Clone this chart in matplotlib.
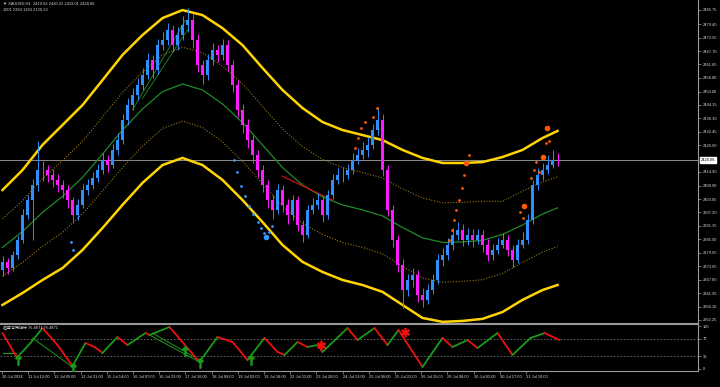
import numpy as np
import matplotlib
matplotlib.use("Agg")
import matplotlib.pyplot as plt
from matplotlib.transforms import blended_transform_factory

plt.rcParams['font.family'] = ['Liberation Sans', 'DejaVu Sans', 'Noto Sans CJK SC']

# ---------------- data ----------------
first_open = 2372.0
close = [2375.6, 2372.9, 2378.6, 2385.2, 2396.1, 2402.6, 2409.2, 2415.7, 2415.7, 2413.6,
         2411.4, 2409.2, 2407.0, 2402.6, 2396.1, 2400.5, 2407.0, 2409.2, 2412.2, 2415.7,
         2420.1, 2417.9, 2424.5, 2428.8, 2437.6, 2444.1, 2448.5, 2452.9, 2457.2, 2463.8,
         2459.4, 2470.3, 2472.5, 2476.9, 2470.3, 2474.7, 2479.0, 2481.2, 2472.5, 2461.6,
         2457.2, 2463.8, 2468.1, 2466.0, 2470.3, 2461.6, 2452.9, 2442.0, 2435.4, 2428.8,
         2422.3, 2415.7, 2409.2, 2402.6, 2398.3, 2407.0, 2400.5, 2396.1, 2402.6, 2391.7,
         2387.4, 2398.3, 2400.5, 2402.6, 2396.1, 2404.8, 2411.4, 2413.6, 2413.6, 2415.7,
         2420.1, 2422.3, 2424.5, 2426.7, 2433.2, 2437.6, 2415.7, 2398.3, 2385.2, 2374.3,
         2363.3, 2367.7, 2369.9, 2361.2, 2359.0, 2363.3, 2367.7, 2376.4, 2378.6, 2383.0,
         2387.4, 2389.5, 2385.2, 2387.4, 2385.2, 2387.4, 2383.0, 2378.6, 2380.8, 2383.0,
         2385.2, 2380.8, 2376.4, 2383.0, 2385.2, 2393.9, 2409.2, 2413.6, 2415.7, 2417.9,
         2420.1, 2420.06]
high = [2378.0, 2377.5, 2380.4, 2387.0, 2398.5, 2405.0, 2412.0, 2428.5, 2419.5, 2418.0,
        2416.0, 2414.0, 2411.5, 2409.0, 2404.0, 2403.0, 2409.5, 2412.0, 2415.0, 2418.5,
        2423.0, 2422.5, 2427.0, 2432.0, 2440.0, 2447.0, 2451.5, 2456.0, 2460.5, 2467.0,
        2466.0, 2473.0, 2476.0, 2480.0, 2479.0, 2478.0, 2483.0, 2486.5, 2484.0, 2475.0,
        2464.0, 2466.5, 2471.0, 2470.5, 2473.0, 2472.5, 2464.0, 2455.0, 2444.5, 2438.0,
        2431.0, 2424.5, 2418.0, 2411.5, 2405.0, 2409.5, 2409.0, 2403.0, 2405.0, 2404.5,
        2394.0, 2400.5, 2403.5, 2405.5, 2404.5, 2407.0, 2414.0, 2416.5, 2417.0, 2418.5,
        2423.0, 2425.5, 2428.0, 2430.0, 2436.0, 2443.0, 2440.0, 2418.0, 2400.5, 2387.5,
        2377.0, 2370.5, 2373.0, 2372.0, 2364.0, 2366.0, 2370.5, 2379.0, 2381.5, 2386.0,
        2390.5, 2393.0, 2392.0, 2390.5, 2390.0, 2390.0, 2389.5, 2385.5, 2383.5, 2386.0,
        2388.0, 2387.5, 2383.0, 2385.5, 2388.5, 2396.5, 2411.5, 2416.5, 2419.0, 2422.5,
        2424.5, 2423.0]
low = [2369.5, 2370.2, 2371.5, 2377.0, 2384.0, 2394.5, 2385.0, 2406.5, 2411.0, 2410.5,
       2408.5, 2406.0, 2403.5, 2399.0, 2392.5, 2394.0, 2399.0, 2405.0, 2407.5, 2410.5,
       2414.0, 2415.0, 2416.5, 2422.5, 2427.0, 2435.5, 2442.0, 2446.5, 2450.5, 2455.5,
       2456.0, 2457.5, 2468.0, 2470.5, 2467.5, 2468.0, 2472.5, 2476.0, 2469.0, 2458.5,
       2453.5, 2455.0, 2461.5, 2463.0, 2464.0, 2459.0, 2450.0, 2439.0, 2432.0, 2425.5,
       2419.0, 2412.5, 2406.0, 2399.0, 2394.5, 2396.5, 2397.5, 2392.0, 2394.0, 2389.0,
       2384.5, 2386.0, 2396.5, 2398.5, 2393.0, 2394.5, 2403.0, 2409.5, 2410.5, 2412.0,
       2414.0, 2418.5, 2420.5, 2421.5, 2425.0, 2431.0, 2413.0, 2395.5, 2382.0, 2371.0,
       2355.5, 2360.5, 2364.5, 2358.0, 2356.0, 2357.0, 2361.5, 2366.0, 2374.0, 2376.5,
       2381.0, 2385.0, 2382.5, 2383.0, 2382.0, 2383.5, 2380.0, 2376.0, 2376.5, 2379.0,
       2381.5, 2378.0, 2373.5, 2375.0, 2381.5, 2383.5, 2392.0, 2407.0, 2411.5, 2414.0,
       2416.5, 2417.5]

band_idx = [0, 4, 8, 12, 16, 20, 24, 28, 32, 36, 40, 44, 48, 52, 56, 60, 64, 68, 72, 76,
            80, 84, 88, 92, 96, 100, 104, 108, 111]
band_upper = [2407.0, 2415.7, 2426.7, 2435.4, 2444.1, 2455.0, 2466.0, 2474.7, 2482.1, 2485.6,
              2483.4, 2477.7, 2470.3, 2460.3, 2450.7, 2442.8, 2436.7, 2433.2, 2431.0, 2428.8,
              2424.5, 2421.0, 2418.8, 2418.8, 2419.2, 2421.4, 2424.5, 2429.7, 2432.8]
band_upper_mid = [2394.4, 2402.3, 2411.9, 2419.8, 2428.3, 2438.9, 2449.6, 2458.5, 2466.0, 2469.4,
                  2467.0, 2461.1, 2453.4, 2443.5, 2433.7, 2426.0, 2420.3, 2416.8, 2414.6, 2412.3,
                  2407.5, 2403.5, 2401.4, 2401.6, 2402.1, 2402.0, 2406.5, 2410.5, 2412.7]
band_center = [2381.9, 2388.9, 2397.2, 2404.2, 2412.5, 2422.7, 2433.2, 2442.4, 2450.0, 2453.3,
               2450.7, 2444.6, 2436.5, 2426.7, 2416.8, 2409.2, 2404.0, 2400.5, 2398.3, 2395.7,
               2390.6, 2386.1, 2384.1, 2384.3, 2385.0, 2387.6, 2391.7, 2396.5, 2399.2]
band_lower_mid = [2369.3, 2375.4, 2382.4, 2388.5, 2396.6, 2406.6, 2416.8, 2426.2, 2433.9, 2437.1,
                  2434.3, 2428.0, 2419.5, 2409.8, 2399.9, 2392.4, 2387.6, 2384.1, 2381.9, 2379.1,
                  2373.7, 2368.6, 2366.7, 2367.1, 2367.8, 2370.6, 2375.4, 2379.9, 2382.3]
band_lower = [2356.8, 2362.0, 2367.7, 2372.9, 2380.8, 2390.4, 2400.5, 2410.1, 2417.9, 2421.0,
              2417.9, 2411.4, 2402.6, 2393.0, 2383.0, 2375.6, 2371.2, 2367.7, 2365.5, 2362.5,
              2356.8, 2351.1, 2349.4, 2349.8, 2350.7, 2353.7, 2359.0, 2363.3, 2365.5]

blue_dot_x = [13.6, 14.0, 46.2, 46.8, 47.6, 48.4, 49.2, 50.0, 51.0, 51.6, 52.2, 52.6, 53.2, 53.8]
blue_dot_y = [2384.3, 2380.8, 2420.1, 2414.9, 2408.8, 2404.4, 2400.0, 2396.5, 2393.0, 2390.4,
              2388.2, 2386.5, 2388.7, 2391.3]
blue_dot_big = [0, 0, 0, 0, 0, 0, 0, 0, 0, 0, 0, 1, 0, 0]
orange_dot_x = [70.4, 71.0, 71.6, 72.4, 74.0, 74.8,
                89.2, 89.8, 90.2, 90.6, 91.2, 91.8, 92.2, 92.6, 93.2,
                103.4, 104.0, 104.2, 105.6, 106.2, 106.6, 107.2, 108.0, 108.6, 109.2, 108.8]
orange_dot_y = [2425.4, 2429.7, 2434.1, 2436.7, 2438.9, 2442.8,
                2385.2, 2389.5, 2393.9, 2398.3, 2402.6, 2407.9, 2413.6, 2418.8, 2422.3,
                2397.4, 2394.8, 2400.0, 2412.3, 2415.7, 2419.2, 2414.9, 2421.4, 2427.5, 2428.4, 2434.1]
orange_dot_big = [0, 0, 0, 0, 0, 0, 0, 0, 0, 0, 0, 0, 0, 1, 0,
                  0, 0, 1, 0, 0, 0, 0, 1, 0, 0, 1]

osc_x = [0, 2.6, 3.0, 5.6, 8.0, 11.0, 14.0, 16.6, 18.4, 20.0, 23.0, 25.0, 28.6, 29.4, 33.4,
         39.4, 43.0, 46.0, 49.0, 52.4, 55.0, 56.4, 59.0, 61.0, 63.0, 64.0, 69.0, 71.0, 74.4,
         77.0, 79.2, 84.0, 88.0, 90.0, 93.0, 95.0, 99.0, 102.0, 105.6, 108.4, 111.4]
osc_val = [83.7, 32.6, 27.9, 60.5, 95.3, 55.8, 7.0, 60.5, 51.2, 37.2, 74.4, 55.8, 83.7, 79.1, 97.7,
           16.3, 74.4, 62.8, 20.9, 72.1, 39.5, 32.6, 62.8, 51.2, 55.8, 39.5, 95.3, 67.4, 95.3,
           55.8, 90.7, 4.7, 72.1, 51.2, 67.4, 48.8, 83.7, 32.6, 72.1, 83.7, 67.4]
osc_up_arrow_x = [3.0, 14.0, 36.4, 39.4, 49.6]
osc_up_arrow_y = [22.0, 2.0, 42.0, 14.0, 22.0]
osc_star_x = [63.6, 80.4]
osc_star_y = [55.0, 85.0]

levels = [70, 30]
price_ticks = [2485.75, 2479.40, 2473.55, 2467.70, 2461.85, 2456.00, 2450.00, 2444.15, 2438.30,
               2432.45, 2426.60, 2414.90, 2408.90, 2403.05, 2397.20, 2391.35, 2385.50, 2379.65,
               2373.65, 2367.80, 2361.95, 2356.10, 2350.25]
osc_ticks = [100, 70, 30, 0]
last_price = 2420.06
time_labels = ["10 Jul 2024", "11 Jul 12:00", "12 Jul 05:00", "12 Jul 21:00", "15 Jul 14:00",
               "16 Jul 07:00", "16 Jul 23:00", "17 Jul 16:00", "18 Jul 09:00", "19 Jul 02:00",
               "19 Jul 18:00", "22 Jul 11:00", "23 Jul 20:00", "24 Jul 13:00", "25 Jul 06:00",
               "25 Jul 22:00", "26 Jul 15:00", "29 Jul 08:00", "30 Jul 01:00", "30 Jul 17:00",
               "31 Jul 10:00"]
title_line1 = "▼ XAUUSD,H1  2419.62 2420.22 2419.01 2420.06"
title_line2 = "1001 2394 1393 2126.33"
osc_title = "趋势背离指标 76.4871 76.4871"

# ---------------- styling ----------------
BG = "black"
TXT = "#d8d8d8"
AX = "#9a9a9a"
BULL = "#2e8fff"
BEAR = "#ff1aff"
YEL = "#ffd400"
FS = 2.9

fig = plt.figure(figsize=(7.2, 3.87), dpi=100, facecolor=BG)
W, H = 720.0, 387.0
ax = fig.add_axes([0, 1 - 323 / H, 698 / W, 323 / H], facecolor=BG)
ax2 = fig.add_axes([0, 1 - 371 / H, 698 / W, 47 / H], facecolor=BG)

n = len(close)
xs = np.arange(n)
o = np.r_[first_open, close[:-1]]
c = np.array(close)
up = c >= o
cols = np.where(up, BULL, BEAR)

# bands
ax.plot(band_idx, band_upper, color=YEL, lw=1.8, zorder=2)
ax.plot(band_idx, band_lower, color=YEL, lw=1.8, zorder=2)
ax.plot(band_idx, band_upper_mid, color="#9a7a10", lw=0.8, ls=(0, (1, 1.5)), zorder=2)
ax.plot(band_idx, band_lower_mid, color="#9a7a10", lw=0.8, ls=(0, (1, 1.5)), zorder=2)
ax.plot(band_idx, band_center, color="#1f8a2a", lw=0.9, zorder=2)

# trend lines (chart objects)
ax.plot([26, 36.6], [2442.0, 2481.2], color="#1f8a2a", lw=0.6, zorder=2)
ax.plot([28, 37], [2447.0, 2477.0], color="#1f8a2a", lw=0.6, zorder=2)
ax.plot([56, 66], [2413.0, 2402.6], color="#e01010", lw=0.8, zorder=2)

# current price line
ax.axhline(last_price, color="#8c8c8c", lw=0.7, zorder=1)

# candles
ax.vlines(xs, low, high, colors=cols, lw=0.7, zorder=3)
ax.bar(xs, np.abs(c - o) + 0.15, bottom=np.minimum(c, o), width=0.42, color=cols, zorder=3, linewidth=0)

# signal dots
bb = np.array(blue_dot_big, bool)
ax.scatter(np.array(blue_dot_x)[~bb], np.array(blue_dot_y)[~bb], s=4, color="#3399ff", zorder=4, lw=0)
ax.scatter(np.array(blue_dot_x)[bb], np.array(blue_dot_y)[bb], s=16, color="#3399ff", zorder=4, lw=0)
ob = np.array(orange_dot_big, bool)
ax.scatter(np.array(orange_dot_x)[~ob], np.array(orange_dot_y)[~ob], s=4, color="#ff5a00", zorder=4, lw=0)
ax.scatter(np.array(orange_dot_x)[ob], np.array(orange_dot_y)[ob], s=16, color="#ff5a00", zorder=4, lw=0)

xmax = 698 / 5.0 - 0.5
for a in (ax, ax2):
    a.set_xlim(-0.5, xmax)
    for s in ("left", "top"):
        a.spines[s].set_visible(False)
    a.spines["right"].set_color(AX)
    a.spines["bottom"].set_color(AX)
    a.spines["right"].set_linewidth(0.8)
    a.spines["bottom"].set_linewidth(0.8)
    a.yaxis.tick_right()
    a.tick_params(axis="y", colors=AX, labelcolor=TXT, labelsize=FS, length=2, width=0.5, pad=1.2)

ax.set_ylim(2348.9, 2490.0)
ax.set_yticks(price_ticks)
ax.set_yticklabels([f"{v:.2f}" for v in price_ticks])
ax.set_xticks([])

# last-price label box
tr = blended_transform_factory(ax.transAxes, ax.transData)
ax.text(1.004, last_price, f"{last_price:.2f}", transform=tr, fontsize=FS, color="black",
        va="center", ha="left", bbox=dict(boxstyle="square,pad=0.15", fc="white", ec="white"),
        clip_on=False, zorder=10)

# header text
ax.text(0.004, 0.996, title_line1, transform=ax.transAxes, fontsize=FS, color=TXT, va="top", ha="left")
ax.text(0.004, 0.975, title_line2, transform=ax.transAxes, fontsize=FS, color=TXT, va="top", ha="left")

# ---------------- oscillator ----------------
ax2.set_ylim(-4.7, 104.7)
for lv in levels:
    ax2.axhline(lv, color="#707070", lw=0.6, ls=(0, (2, 2)))
ax2.plot([0, 2.6], [37.2, 37.2], color="#1a9a1a", lw=0.8)
ax2.plot([6.0, 14.0], [72.1, 4.7], color="#1a9a1a", lw=0.7)
ax2.plot([29.4, 39.4], [79.1, 16.3], color="#1a9a1a", lw=0.7)
ax2.plot([30.0, 39.4], [83.7, 20.9], color="#1a9a1a", lw=0.7)
for i in range(len(osc_x) - 1):
    col = "#1a9a1a" if osc_val[i + 1] >= osc_val[i] else "#ee1010"
    ax2.plot(osc_x[i:i + 2], osc_val[i:i + 2], color=col, lw=1.3, solid_capstyle="round")
ax2.scatter(osc_up_arrow_x, osc_up_arrow_y, marker=r"$\uparrow$", s=45, color="#1a9a1a", zorder=5)
ax2.scatter(osc_star_x, osc_star_y, marker=r"$\ast$", s=35, color="#ee1010", zorder=5)
ax2.set_yticks(osc_ticks)
ax2.set_yticklabels([str(v) for v in osc_ticks])
ax2.spines["top"].set_visible(True)
ax2.spines["top"].set_color(AX)
ax2.spines["top"].set_linewidth(0.8)
ax2.text(0.004, 0.97, osc_title, transform=ax2.transAxes, fontsize=FS, color=TXT, va="top", ha="left",
         family=["Noto Sans CJK SC", "DejaVu Sans"], zorder=6)

tick_pos = np.arange(len(time_labels)) * 5.24 - 0.1
ax2.set_xticks(tick_pos)
ax2.set_xticklabels(time_labels, ha="left")
ax2.tick_params(axis="x", colors=AX, labelcolor=TXT, labelsize=FS, length=2, width=0.5, pad=1.2)

fig.savefig("out.png", dpi=100, facecolor=BG)
